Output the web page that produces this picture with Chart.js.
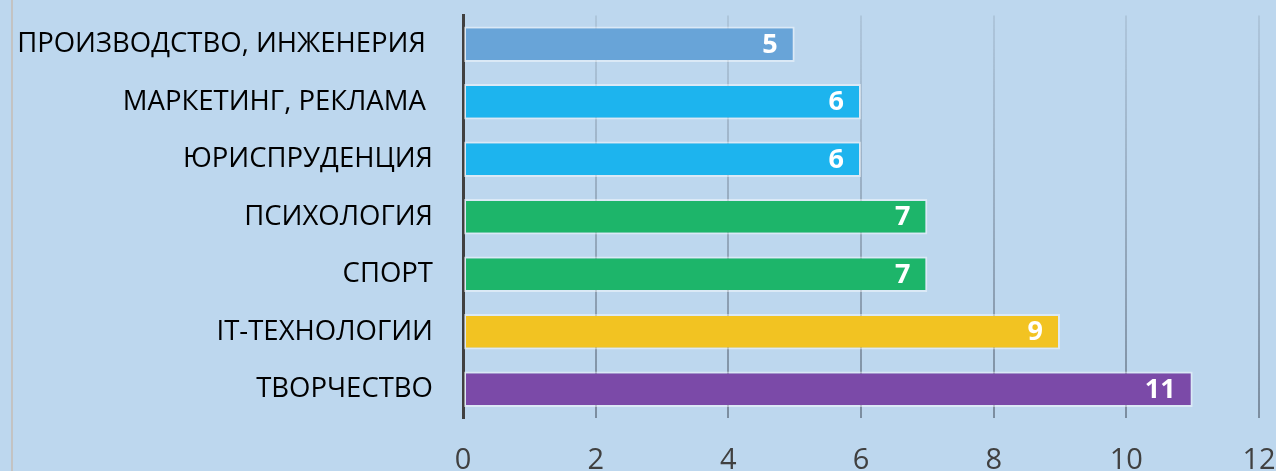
<!DOCTYPE html>
<html>
<head>
<meta charset="utf-8">
<script src="https://cdn.jsdelivr.net/npm/chart.js@4"></script>
<style>
  html, body { margin:0; padding:0; width:1276px; height:471px; overflow:hidden; background:#BDD7EE; }
  #wrap { position:absolute; left:0; top:-31px; width:1320px; height:531px; }
  #edge { position:absolute; left:11px; top:0; width:2px; height:471px; background:#c3c3c3; }
</style>
</head>
<body>
<div id="edge"></div>
<div id="wrap"><canvas id="c" width="1320" height="531"></canvas></div>
<script>
const categories = ['ПРОИЗВОДСТВО, ИНЖЕНЕРИЯ ', 'МАРКЕТИНГ, РЕКЛАМА ', 'ЮРИСПРУДЕНЦИЯ', 'ПСИХОЛОГИЯ', 'СПОРТ', 'IT-ТЕХНОЛОГИИ', 'ТВОРЧЕСТВО'];
const values = [5, 6, 6, 7, 7, 9, 11];
const barColors = ['#68A4D8', '#1DB4EE', '#1DB4EE', '#1DB56A', '#1DB56A', '#F2C322', '#7B4AA8'];
const xMin = 0, xMax = 12, xStep = 2;

// белые подписи значений у конца столбца
const valueLabels = {
  id: 'valueLabels',
  afterDraw(chart) {
    const ctx = chart.ctx;
    const meta = chart.getDatasetMeta(0);
    ctx.save();
    ctx.font = 'bold 27px "Open Sans"';
    ctx.fillStyle = '#ffffff';
    ctx.textAlign = 'right';
    ctx.textBaseline = 'middle';
    meta.data.forEach((bar, i) => {
      ctx.fillText(String(values[i]), bar.x - 17, bar.y + 1);
    });
    ctx.restore();
  }
};

function gridColor(c) {
  const ca = c.chart.chartArea;
  if (!ca) return 'rgba(90,100,115,0.45)';
  const g = c.chart.ctx.createLinearGradient(0, ca.top, 0, ca.bottom);
  g.addColorStop(0, 'rgba(90,100,115,0.15)');
  g.addColorStop(1, 'rgba(70,80,95,0.55)');
  return g;
}

new Chart(document.getElementById('c'), {
  type: 'bar',
  data: {
    labels: categories,
    datasets: [{
      data: values,
      backgroundColor: barColors,
      borderColor: 'rgba(255,255,255,0.45)',
      borderWidth: 2,
      borderSkipped: false,
      categoryPercentage: 1,
      barPercentage: 0.62
    }]
  },
  options: {
    indexAxis: 'y',
    responsive: false,
    animation: false,
    layout: { padding: { top: 14, right: 61, left: 0, bottom: 0 } },
    plugins: { legend: { display: false }, tooltip: { enabled: false } },
    scales: {
      x: {
        min: xMin, max: xMax, z: 1,
        ticks: { stepSize: xStep, color: '#404040', font: { family: 'Open Sans', size: 29 }, padding: 25 },
        grid: { color: gridColor, lineWidth: 2, drawTicks: false },
        border: { display: false },
        afterFit(s) { s.height = 82; }
      },
      y: {
        ticks: { color: '#000000', font: { family: 'Open Sans', size: 27.5 }, padding: 30 },
        grid: { display: false, drawTicks: false },
        border: { display: true, color: '#404040', width: 3 },
        afterFit(s) { s.width = 463; }
      }
    }
  },
  plugins: [valueLabels]
});
</script>
</body>
</html>
